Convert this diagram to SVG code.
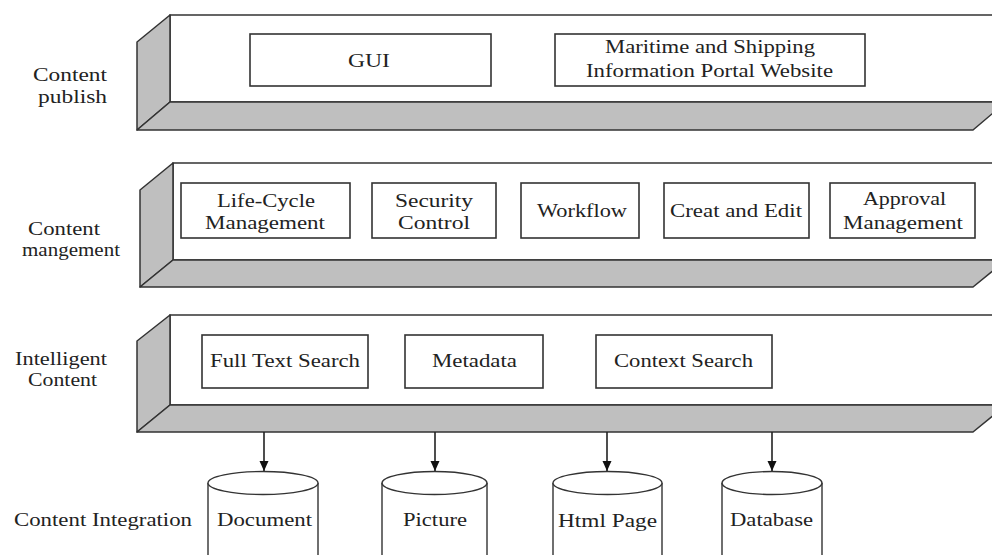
<svg xmlns="http://www.w3.org/2000/svg" width="992" height="555" viewBox="0 0 992 555">
<defs>
<style>
.face{fill:#fff;stroke:#333;stroke-width:1.5}
.side{fill:#bfbfbf;stroke:#333;stroke-width:1.5;stroke-linejoin:round}
.box{fill:#fff;stroke:#333;stroke-width:1.6}
.cyl{fill:#fff;stroke:#333;stroke-width:1.4}
.t{font-family:"Liberation Serif","Times New Roman",serif;font-size:18px;fill:#222}
.conn{stroke:#222;stroke-width:1.6;fill:none}
</style>
<marker id="ah" viewBox="0 0 10 10" refX="10" refY="5" markerWidth="10" markerHeight="10" markerUnits="userSpaceOnUse" orient="auto">
<path d="M0,0.5 L10,5 L0,9.5 z" fill="#111"/>
</marker>
</defs>
<rect width="992" height="555" fill="#fff"/>

<g id="layer-publish">
<rect class="face" x="170" y="15" width="840" height="87"/>
<polygon class="side" points="137,42 170,15 170,102 137,130"/>
<polygon class="side" points="170,102 1006,102 973,130 137,130"/>
<text class="t" x="33" y="81" textLength="74" lengthAdjust="spacingAndGlyphs">Content</text>
<text class="t" x="38" y="103" textLength="69" lengthAdjust="spacingAndGlyphs">publish</text>
</g>
<g id="node-gui">
<rect class="box" x="250" y="34" width="241" height="52"/>
<text class="t" x="348" y="67" textLength="42" lengthAdjust="spacingAndGlyphs">GUI</text>
</g>
<g id="node-portal">
<rect class="box" x="555" y="34" width="310" height="52"/>
<text class="t" x="605" y="53" textLength="210" lengthAdjust="spacingAndGlyphs">Maritime and Shipping</text>
<text class="t" x="586" y="77" textLength="247" lengthAdjust="spacingAndGlyphs">Information Portal Website</text>
</g>

<g id="layer-management">
<rect class="face" x="173" y="163" width="840" height="97"/>
<polygon class="side" points="140,190 173,163 173,260 140,287"/>
<polygon class="side" points="173,260 1006,260 973,287 140,287"/>
<text class="t" x="28" y="235" textLength="72" lengthAdjust="spacingAndGlyphs">Content</text>
<text class="t" x="22" y="256" textLength="98" lengthAdjust="spacingAndGlyphs">mangement</text>
</g>
<g id="node-lifecycle">
<rect class="box" x="181" y="183" width="169" height="55"/>
<text class="t" x="217" y="207" textLength="98" lengthAdjust="spacingAndGlyphs">Life-Cycle</text>
<text class="t" x="205" y="229" textLength="120" lengthAdjust="spacingAndGlyphs">Management</text>
</g>
<g id="node-security">
<rect class="box" x="372" y="183" width="124" height="55"/>
<text class="t" x="395" y="207" textLength="78" lengthAdjust="spacingAndGlyphs">Security</text>
<text class="t" x="398" y="229" textLength="72" lengthAdjust="spacingAndGlyphs">Control</text>
</g>
<g id="node-workflow">
<rect class="box" x="521" y="183" width="118" height="55"/>
<text class="t" x="537" y="217" textLength="90" lengthAdjust="spacingAndGlyphs">Workflow</text>
</g>
<g id="node-creat">
<rect class="box" x="664" y="183" width="145" height="55"/>
<text class="t" x="670" y="217" textLength="132" lengthAdjust="spacingAndGlyphs">Creat and Edit</text>
</g>
<g id="node-approval">
<rect class="box" x="830" y="183" width="145" height="55"/>
<text class="t" x="863" y="205" textLength="83" lengthAdjust="spacingAndGlyphs">Approval</text>
<text class="t" x="843" y="229" textLength="120" lengthAdjust="spacingAndGlyphs">Management</text>
</g>

<g id="layer-intelligent">
<rect class="face" x="170" y="315" width="840" height="90"/>
<polygon class="side" points="137,341 170,315 170,405 137,432"/>
<polygon class="side" points="170,405 1006,405 973,432 137,432"/>
<text class="t" x="15" y="365" textLength="92" lengthAdjust="spacingAndGlyphs">Intelligent</text>
<text class="t" x="28" y="386" textLength="69" lengthAdjust="spacingAndGlyphs">Content</text>
</g>
<g id="node-fulltext">
<rect class="box" x="202" y="335" width="166" height="53"/>
<text class="t" x="210" y="367" textLength="150" lengthAdjust="spacingAndGlyphs">Full Text Search</text>
</g>
<g id="node-metadata">
<rect class="box" x="405" y="335" width="138" height="53"/>
<text class="t" x="432" y="367" textLength="85" lengthAdjust="spacingAndGlyphs">Metadata</text>
</g>
<g id="node-context">
<rect class="box" x="596" y="335" width="176" height="53"/>
<text class="t" x="614" y="367" textLength="139" lengthAdjust="spacingAndGlyphs">Context Search</text>
</g>

<g id="label-integration">
<text class="t" x="14" y="526" textLength="178" lengthAdjust="spacingAndGlyphs">Content Integration</text>
</g>
<g id="node-document">
<path class="cyl" d="M208,483 L208,560 A55,11.5 0 0 0 318,560 L318,483"/>
<ellipse class="cyl" cx="263" cy="483" rx="55" ry="11.5"/>
<text class="t" x="217" y="526" textLength="95" lengthAdjust="spacingAndGlyphs">Document</text>
</g>
<g id="node-picture">
<path class="cyl" d="M382,483 L382,560 A52.5,11.5 0 0 0 487,560 L487,483"/>
<ellipse class="cyl" cx="434.5" cy="483" rx="52.5" ry="11.5"/>
<text class="t" x="403" y="526" textLength="64" lengthAdjust="spacingAndGlyphs">Picture</text>
</g>
<g id="node-html">
<path class="cyl" d="M553,483 L553,560 A54.5,11.5 0 0 0 662,560 L662,483"/>
<ellipse class="cyl" cx="607.5" cy="483" rx="54.5" ry="11.5"/>
<text class="t" x="558" y="527" textLength="99" lengthAdjust="spacingAndGlyphs">Html Page</text>
</g>
<g id="node-database">
<path class="cyl" d="M722,483 L722,560 A50,11.5 0 0 0 822,560 L822,483"/>
<ellipse class="cyl" cx="772" cy="483" rx="50" ry="11.5"/>
<text class="t" x="730" y="526" textLength="83" lengthAdjust="spacingAndGlyphs">Database</text>
</g>

<g id="connectors">
<line class="conn" x1="264" y1="432" x2="264" y2="471" marker-end="url(#ah)"/>
<line class="conn" x1="435" y1="432" x2="435" y2="471" marker-end="url(#ah)"/>
<line class="conn" x1="607" y1="432" x2="607" y2="471" marker-end="url(#ah)"/>
<line class="conn" x1="772" y1="432" x2="772" y2="471" marker-end="url(#ah)"/>
</g>
</svg>
